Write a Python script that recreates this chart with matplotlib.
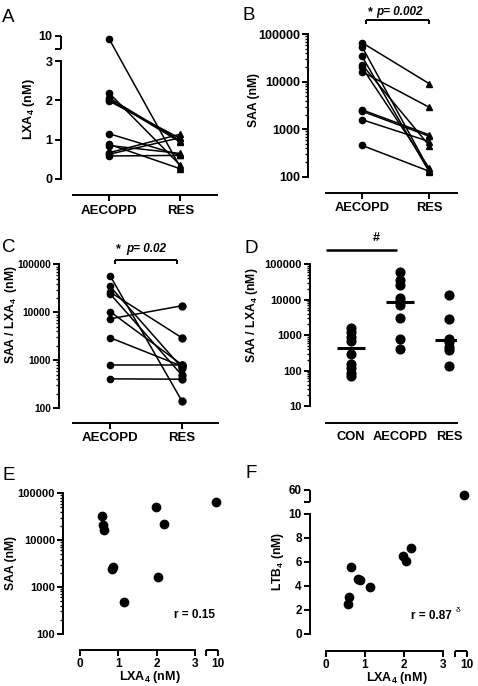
import numpy as np
import matplotlib
matplotlib.use('Agg')
import matplotlib.pyplot as plt
from matplotlib.lines import Line2D
from matplotlib.ticker import FixedLocator, NullFormatter

plt.rcParams['font.family'] = ['Liberation Sans', 'DejaVu Sans']
plt.rcParams['font.weight'] = 'bold'
plt.rcParams['axes.labelweight'] = 'bold'
plt.rcParams['mathtext.fontset'] = 'custom'
plt.rcParams['mathtext.rm'] = 'Liberation Sans:bold'
plt.rcParams['mathtext.it'] = 'Liberation Sans:bold:italic'
plt.rcParams['mathtext.bf'] = 'Liberation Sans:bold'
plt.rcParams['mathtext.default'] = 'rm'

# ---------------- data ----------------
pair_groups = ['AECOPD', 'RES']
# Panel A : LXA4 (nM)
a_aecopd = [9.5, 2.18, 2.06, 2.02, 1.98, 1.15, 0.88, 0.85, 0.67, 0.63, 0.585]
a_res = [0.30, 0.35, 0.97, 0.94, 1.03, 0.60, 0.26, 0.65, 1.14, 1.05, 0.60]
# Panel B : SAA (nM)
b_aecopd = [66700, 55000, 34400, 23000, 20000, 16300, 2570, 2400, 1590, 457]
b_res = [9100, 138, 126, 450, 150, 2900, 760, 710, 550, 130]
# Panel C : SAA / LXA4
c_aecopd = [58700, 35000, 26600, 24500, 10400, 7300, 2950, 790, 407]
c_res = [142, 700, 2950, 490, 810, 13700, 750, 790, 400]
# Panel D : SAA / LXA4 by group
d_groups = ['CON', 'AECOPD', 'RES']
d_con = [1580, 1260, 915, 665, 300, 152, 115, 85, 71]
d_aecopd = [62000, 35000, 26000, 11200, 9300, 7100, 3000, 770, 405]
d_res = [13300, 2800, 780, 640, 455, 380, 135]
d_median = [430, 8900, 730]
# Panel E : SAA vs LXA4
e_lxa4 = [0.57, 0.59, 0.63, 0.835, 0.87, 1.14, 1.98, 2.03, 2.18, 9.6]
e_saa = [33100, 20700, 16200, 2450, 2600, 470, 51800, 1590, 22400, 64000]
# Panel F : LTB4 vs LXA4
f_lxa4 = [0.56, 0.59, 0.64, 0.83, 0.87, 1.13, 1.97, 2.05, 2.19, 9.6]
f_ltb4 = [2.49, 3.07, 5.54, 4.55, 4.50, 3.90, 6.45, 6.04, 7.17, 56]

W, H = 478, 686
fig = plt.figure(figsize=(W / 100, H / 100), dpi=100)

SPW = 1.4
LW = 1.1


def px_ax(l, t, r, b):
    ax = fig.add_axes([l / W, 1 - b / H, (r - l) / W, (b - t) / H])
    ax.patch.set_visible(False)
    for s in ['top', 'right']:
        ax.spines[s].set_visible(False)
    for s in ['left', 'bottom']:
        ax.spines[s].set_linewidth(SPW)
    ax.tick_params(which='major', length=4.5, width=SPW, pad=1.5)
    ax.tick_params(which='minor', length=2.5, width=1.0)
    return ax


def brk(lo_end, hi_start, hi_end, gap_t, hi_t):
    slope = hi_t / (hi_end - hi_start)
    xp = np.array([-1e6, lo_end, hi_start, hi_end, 1e6])
    fp = np.array([-1e6, lo_end, lo_end + gap_t, lo_end + gap_t + hi_t,
                   lo_end + gap_t + hi_t + (1e6 - hi_end) * slope])

    def fwd(v):
        return np.interp(np.asarray(v, dtype=float), xp, fp)

    def inv(v):
        return np.interp(np.asarray(v, dtype=float), fp, xp)
    return fwd, inv


def ftext(x, y, s, **kw):
    fig.text(x / W, 1 - y / H, s, **kw)


def fline(xs, ys, lw=SPW):
    fig.add_artist(Line2D([x / W for x in xs], [1 - y / H for y in ys],
                          transform=fig.transFigure, color='k', lw=lw,
                          solid_capstyle='butt'))


def log_ticks(ax, lo_exp, hi_exp, size):
    majors = [10 ** k for k in range(lo_exp, hi_exp + 1)]
    minors = [m * 10 ** k for k in range(lo_exp, hi_exp) for m in range(2, 10)]
    ax.yaxis.set_major_locator(FixedLocator(majors))
    ax.set_yticklabels([str(v) for v in majors], fontsize=size)
    ax.yaxis.set_minor_locator(FixedLocator(minors))
    ax.yaxis.set_minor_formatter(NullFormatter())
    ax.spines['left'].set_bounds(majors[0], majors[-1])


def paired(ax, pre, post, post_marker):
    for p, q in zip(pre, post):
        ax.plot([0, 1], [p, q], color='k', lw=LW, clip_on=False, zorder=2)
    ax.plot(np.zeros(len(pre)), pre, 'o', color='k', ms=4.5, clip_on=False, zorder=3)
    ax.plot(np.ones(len(post)), post, post_marker, color='k', ms=5, clip_on=False, zorder=3)


# ---------------- Panel A ----------------
axA = px_ax(61, 36, 217, 195)
fA, iA = brk(3, 8, 10, 12 / 39.3, 13 / 39.3)
axA.set_yscale('function', functions=(fA, iA))
axA.set_xlim(-0.68, 1.517)
axA.set_ylim(-0.407, 10)
paired(axA, a_aecopd, a_res, '^')
axA.yaxis.set_major_locator(FixedLocator([0, 1, 2, 3, 8, 10]))
axA.set_yticklabels(['0', '1', '2', '3', '', '10'], fontsize=9)
axA.yaxis.set_minor_locator(FixedLocator([]))
axA.spines['left'].set_bounds(0, 3)
axA.plot([0, 0], [8, 10], color='k', lw=SPW, transform=axA.get_yaxis_transform(),
         clip_on=False, solid_capstyle='butt')
axA.spines['bottom'].set_bounds(-0.515, 1.517)
axA.set_xticks([0, 1])
axA.set_xticklabels(pair_groups, fontsize=9.5)
axA.tick_params(axis='x', pad=2.5)
ftext(29, 109, 'LXA$_4$ (nM)', rotation=90, ha='center', va='center', fontsize=9)
ftext(2, 22, 'A', fontsize=13.5, fontweight='normal')

# ---------------- Panel B ----------------
axB = px_ax(308.3, 34.3, 457.3, 192.7)
axB.set_yscale('log')
axB.set_xlim(-0.798, 1.416)
axB.set_ylim(10 ** (2 - 16 / 47.47), 1e5)
paired(axB, b_aecopd, b_res, '^')
log_ticks(axB, 2, 5, 9)
axB.spines['bottom'].set_bounds(-0.535, 1.416)
axB.set_xticks([0, 1])
axB.set_xticklabels(pair_groups, fontsize=9.3)
axB.tick_params(axis='x', pad=2)
ftext(254, 100, 'SAA (nM)', rotation=90, ha='center', va='center', fontsize=8.7)
ftext(243, 20, 'B', fontsize=13.5, fontweight='normal')
fline([365.7, 429], [20, 20])
fline([365.7, 365.7], [20, 24])
fline([429, 429], [20, 24])
ftext(370, 15.5, '*', ha='center', va='baseline', fontsize=9)
ftext(376.5, 15.5, 'p= 0.002', ha='left', va='baseline', fontsize=8.5, style='italic')

# ---------------- Panel C ----------------
axC = px_ax(59.3, 264.5, 218.3, 423.3)
axC.set_yscale('log')
axC.set_xlim(-0.707, 1.51)
axC.set_ylim(10 ** (2 - 15.3 / 47.83), 1e5)
paired(axC, c_aecopd, c_res, 'o')
log_ticks(axC, 2, 5, 7.3)
axC.spines['bottom'].set_bounds(-0.512, 1.51)
axC.set_xticks([0, 1])
axC.set_xticklabels(pair_groups, fontsize=9.5)
axC.tick_params(axis='x', pad=2)
ftext(11, 315, 'SAA / LXA$_4$  (nM)', rotation=90, ha='center', va='center', fontsize=8.7)
ftext(2, 252, 'C', fontsize=13.5, fontweight='normal')
fline([115, 177.3], [260, 260])
fline([115, 115], [260, 264])
fline([177.3, 177.3], [260, 264])
ftext(118, 252, '*', ha='center', va='baseline', fontsize=9)
ftext(126, 252, 'p= 0.02', ha='left', va='baseline', fontsize=8.5, style='italic')

# ---------------- Panel D ----------------
axD = px_ax(310, 264.3, 457.3, 422.7)
axD.set_yscale('log')
axD.set_xlim(-0.837, 2.169)
axD.set_ylim(10 ** (1 - 16.7 / 35.43), 1e5)
for i, vals in enumerate([d_con, d_aecopd, d_res]):
    axD.plot(np.full(len(vals), i), vals, 'o', color='k', ms=6.3, clip_on=False)
    axD.plot([i - 0.29, i + 0.29], [d_median[i], d_median[i]], color='k', lw=2.2,
             solid_capstyle='butt')
log_ticks(axD, 1, 5, 8)
axD.spines['bottom'].set_bounds(-0.51, 2.169)
axD.set_xticks([0, 1, 2])
axD.set_xticklabels(d_groups, fontsize=9.3)
axD.tick_params(axis='x', length=0, pad=6)
ftext(251.5, 315.5, 'SAA / LXA$_4$ (nM)', rotation=90, ha='center', va='center', fontsize=8.7)
ftext(245, 253, 'D', fontsize=13.5, fontweight='normal')
fline([326, 396.7], [250, 250], lw=1.8)
ftext(376, 241, '#', ha='center', va='baseline', fontsize=9)

# ---------------- Panel E ----------------
axE = px_ax(63.3, 493.3, 218.3, 650)
axE.set_yscale('log')
fE, iE = brk(3, 8, 10, 10.7 / 38.33, 12.6 / 38.33)
axE.set_xscale('function', functions=(fE, iE))
axE.set_xlim(-0.436, 10)
axE.set_ylim(10 ** (2 - 16.3 / 46.8), 1e5)
axE.plot(e_lxa4, e_saa, 'o', color='k', ms=6, clip_on=False)
log_ticks(axE, 2, 5, 8)
axE.xaxis.set_major_locator(FixedLocator([0, 1, 2, 3, 8, 10]))
axE.set_xticklabels(['0', '1', '2', '3', '', '10'], fontsize=8.5)
axE.xaxis.set_minor_locator(FixedLocator([]))
axE.spines['bottom'].set_bounds(0, 3)
axE.plot([8, 10], [0, 0], color='k', lw=SPW, transform=axE.get_xaxis_transform(),
         clip_on=False, solid_capstyle='butt')
ftext(150, 677, 'LXA$_4$ (nM)', ha='center', va='center', fontsize=9)
ftext(11, 563, 'SAA (nM)', rotation=90, ha='center', va='center', fontsize=8.7)
ftext(215, 618, 'r = 0.15', ha='right', va='baseline', fontsize=8.5)
ftext(3, 480, 'E', fontsize=13.5, fontweight='normal')

# ---------------- Panel F ----------------
axF = px_ax(310, 490, 466.7, 650.7)
fFx, iFx = brk(3, 8, 10, 12 / 39.1, 11.7 / 39.1)
fFy, iFy = brk(10, 50, 60, 11.4 / 12.03, 12.3 / 12.03)
axF.set_xscale('function', functions=(fFx, iFx))
axF.set_yscale('function', functions=(fFy, iFy))
axF.set_xlim(-(325.7 - 310) / 39.1, 10)
axF.set_ylim(-16.7 / 12.03, 60)
axF.plot(f_lxa4, f_ltb4, 'o', color='k', ms=6, clip_on=False)
axF.yaxis.set_major_locator(FixedLocator([0, 2, 4, 6, 8, 10, 50, 60]))
axF.set_yticklabels(['0', '2', '4', '6', '8', '10', '', '60'], fontsize=8.5)
axF.yaxis.set_minor_locator(FixedLocator([]))
axF.spines['left'].set_bounds(0, 10)
axF.plot([0, 0], [50, 60], color='k', lw=SPW, transform=axF.get_yaxis_transform(),
         clip_on=False, solid_capstyle='butt')
axF.xaxis.set_major_locator(FixedLocator([0, 1, 2, 3, 8, 10]))
axF.set_xticklabels(['0', '1', '2', '3', '', '10'], fontsize=8.5)
axF.xaxis.set_minor_locator(FixedLocator([]))
axF.spines['bottom'].set_bounds(0, 3)
axF.plot([8, 10], [0, 0], color='k', lw=SPW, transform=axF.get_xaxis_transform(),
         clip_on=False, solid_capstyle='butt')
ftext(396.7, 678, 'LXA$_4$ (nM)', ha='center', va='center', fontsize=9)
ftext(277.5, 561.5, 'LTB$_4$ (nM)', rotation=90, ha='center', va='center', fontsize=8.7)
ftext(452, 619, 'r = 0.87', ha='right', va='baseline', fontsize=8.5)
ftext(457.5, 612, 'δ', ha='center', va='baseline', fontsize=6, fontweight='normal')
ftext(246, 478, 'F', fontsize=13.5, fontweight='normal')

fig.savefig('out.png', dpi=100)
